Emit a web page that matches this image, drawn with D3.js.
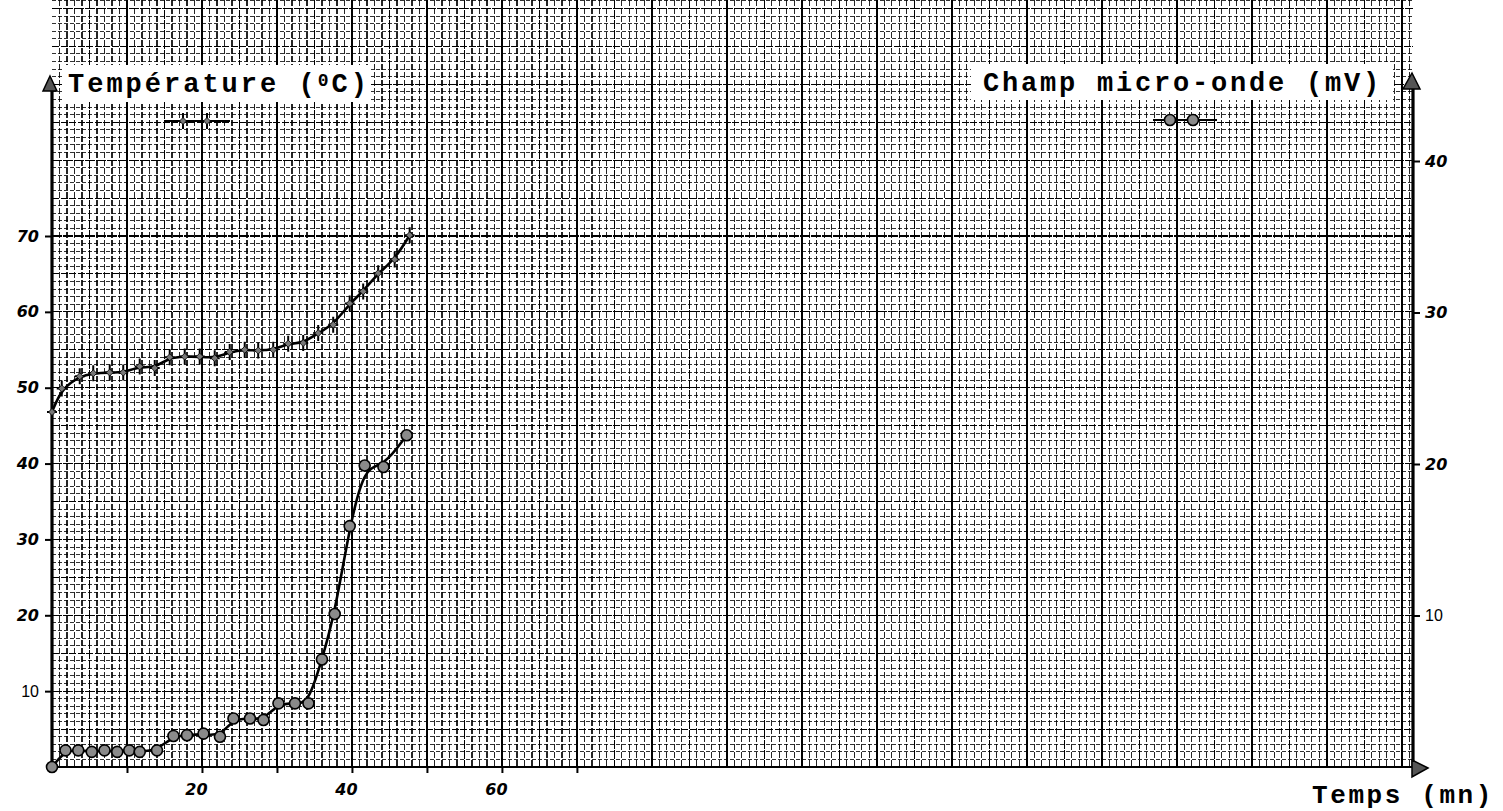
<!DOCTYPE html>
<html>
<head>
<meta charset="utf-8">
<script src="https://cdn.jsdelivr.net/npm/d3@7"></script>
<style>
  html, body { margin: 0; padding: 0; background: #fff; }
  svg { display: block; }
</style>
</head>
<body>
<svg id="chart" width="1503" height="811"></svg>
<script>
// Axis ticks
const timeTicks = [10, 20, 30, 40, 50, 60, 70];      // minutes
const timeLabels = [20, 40, 60];
const tempTicks = [10, 20, 30, 40, 50, 60, 70];      // °C
const fieldTicks = [10, 20, 30, 40];                 // mV

// Temperature (°C) versus time (mn)
const tempTime  = [0, 1.3, 3.7, 5.5, 7.7, 9.5, 11.7, 13.7, 15.7, 17.7, 19.7, 21.7, 23.7,
                   25.7, 27.5, 29.5, 31.5, 33.5, 35.5, 37.5, 39.7, 41.5, 43.5, 45.7, 47.7];
const tempValue = [46.8, 49.9, 51.5, 51.9, 52.0, 52.0, 52.8, 52.6, 54.0, 54.1, 54.1, 53.9, 54.7,
                   55.0, 54.9, 55.0, 55.8, 55.9, 57.2, 58.3, 61.1, 62.7, 65.1, 66.9, 70.1];

// Microwave field (mV) versus time (mn)
const fieldTime  = [0, 1.8, 3.5, 5.3, 7.0, 8.7, 10.3, 11.7, 14.0, 16.2, 18.0, 20.2, 22.4,
                    24.2, 26.4, 28.2, 30.2, 32.4, 34.2, 36.0, 37.7, 39.7, 41.7, 44.2, 47.3];
const fieldValue = [0, 1.1, 1.1, 1.0, 1.1, 1.0, 1.1, 1.0, 1.1, 2.05, 2.1, 2.2, 2.0,
                    3.2, 3.2, 3.1, 4.2, 4.2, 4.2, 7.1, 10.1, 15.9, 19.9, 19.8, 21.9];

const svg = d3.select('#chart');

const x  = d3.scaleLinear().domain([0, 181.5]).range([52, 1413]);
const yT = d3.scaleLinear().domain([0, 70]).range([767, 236]);
const yF = d3.scaleLinear().domain([0, 40]).range([767, 161]);

// ---- graph paper ----
const grid = svg.append('g').attr('shape-rendering', 'crispEdges');
const vMin = d3.range(1, 182);
const hMin = d3.range(1, 102).filter(d => yT(d) >= 0);
function vStyle(sel, d) {
  if (d % 10 === 0) sel.attr('stroke', '#000').attr('stroke-width', 1.7);
  else if (d % 5 === 0) sel.attr('stroke', '#000').attr('stroke-width', 1.4).attr('stroke-dasharray', '9 1');
  else sel.attr('stroke', '#000').attr('stroke-width', 1.2).attr('stroke-dasharray', '6 2').attr('opacity', 0.85);
}
function hStyle(sel, d) {
  if (d % 10 === 0) sel.attr('stroke', '#000').attr('stroke-width', 1.2).attr('stroke-dasharray', '10 1');
  else if (d % 5 === 0) sel.attr('stroke', '#000').attr('stroke-width', 1.1).attr('stroke-dasharray', '7 1.5');
  else sel.attr('stroke', '#000').attr('stroke-width', 1).attr('stroke-dasharray', '4 2').attr('opacity', 0.8);
}
vMin.forEach(d => {
  grid.append('line')
    .attr('x1', x(d)).attr('x2', x(d))
    .attr('y1', 0).attr('y2', 767)
    .call(vStyle, d);
});
hMin.forEach(d => {
  grid.append('line')
    .attr('x1', 52).attr('x2', 1413)
    .attr('y1', yT(d)).attr('y2', yT(d))
    .call(hStyle, d);
});

// ---- title boxes ----
const titleFont = '"Liberation Mono", "DejaVu Sans Mono", monospace';
svg.append('rect').attr('x', 63).attr('y', 65).attr('width', 308).attr('height', 37).attr('fill', '#fff');
svg.append('rect').attr('x', 971).attr('y', 64).attr('width', 422).attr('height', 36).attr('fill', '#fff');

const tTitle = svg.append('text')
  .attr('x', 68).attr('y', 92)
  .attr('font-family', titleFont).attr('font-weight', 'bold')
  .attr('font-size', 27).attr('letter-spacing', 3).attr('fill', '#000');
tTitle.append('tspan').text('Température (');
tTitle.append('tspan').attr('font-size', 18).attr('dy', -6).text('0');
tTitle.append('tspan').attr('dy', 6).text('C)');

svg.append('text')
  .attr('x', 983).attr('y', 91)
  .attr('font-family', titleFont).attr('font-weight', 'bold')
  .attr('font-size', 27).attr('letter-spacing', 2.8).attr('fill', '#000')
  .text('Champ micro-onde (mV)');

svg.append('text')
  .attr('x', 1312).attr('y', 803)
  .attr('font-family', titleFont).attr('font-weight', 'bold')
  .attr('font-size', 26).attr('letter-spacing', 2.6).attr('fill', '#000')
  .text('Temps (mn)');

// ---- axis lines and arrowheads ----
const axes = svg.append('g');
axes.append('line').attr('x1', 52).attr('x2', 52).attr('y1', 768).attr('y2', 88)
  .attr('stroke', '#000').attr('stroke-width', 3.2);
axes.append('line').attr('x1', 1413).attr('x2', 1413).attr('y1', 768).attr('y2', 86)
  .attr('stroke', '#000').attr('stroke-width', 3.2);
axes.append('line').attr('x1', 52).attr('x2', 1416).attr('y1', 767).attr('y2', 767)
  .attr('stroke', '#000').attr('stroke-width', 2.2);

axes.append('path').attr('d', 'M50,76 L57,91 L43,91 Z')
  .attr('fill', '#555').attr('stroke', '#000').attr('stroke-width', 1.5);
axes.append('path').attr('d', 'M1412,73 L1420,89 L1403,89 Z')
  .attr('fill', '#555').attr('stroke', '#000').attr('stroke-width', 1.5);
axes.append('path').attr('d', 'M1428,768 L1412,760 L1412,777 Z')
  .attr('fill', '#555').attr('stroke', '#000').attr('stroke-width', 1.5);

// ---- tick marks and labels ----
const handFont = '"DejaVu Sans", sans-serif';
const plainFont = '"Liberation Sans", Arial, sans-serif';

function styleAxis(g, plainValue) {
  g.select('.domain').remove();
  g.selectAll('.tick line').attr('stroke', '#000').attr('stroke-width', 2);
  g.selectAll('.tick text')
    .attr('fill', '#000')
    .attr('font-size', 16)
    .attr('font-weight', d => d === plainValue ? 'normal' : 'bold')
    .attr('font-family', d => d === plainValue ? plainFont : handFont)
    .attr('font-style', d => d === plainValue ? 'normal' : 'italic');
}

svg.append('g').attr('transform', 'translate(52,0)')
  .call(d3.axisLeft(yT).tickValues(tempTicks).tickSize(7).tickPadding(6))
  .call(styleAxis, 10);

svg.append('g').attr('transform', 'translate(1413,0)')
  .call(d3.axisRight(yF).tickValues(fieldTicks).tickSize(7).tickPadding(5))
  .call(styleAxis, 10);

const bottom = svg.append('g').attr('transform', 'translate(0,767)')
  .call(d3.axisBottom(x).tickValues(timeTicks).tickSize(6).tickPadding(11)
        .tickFormat(d => timeLabels.includes(d) ? d : ''))
  .call(styleAxis, null);
bottom.selectAll('.tick text').attr('dx', -6);

// ---- curves ----
const tempData  = tempTime.map((t, i) => ({ t, v: tempValue[i] }));
const fieldData = fieldTime.map((t, i) => ({ t, v: fieldValue[i] }));

const tempLine = d3.line().x(d => x(d.t)).y(d => yT(d.v)).curve(d3.curveBasis);
const fieldLine = d3.line().x(d => x(d.t)).y(d => yF(d.v)).curve(d3.curveBasis);

svg.append('path').datum(tempData).attr('d', tempLine)
  .attr('fill', 'none').attr('stroke', '#000').attr('stroke-width', 2.6);
svg.append('path').datum(fieldData).attr('d', fieldLine)
  .attr('fill', 'none').attr('stroke', '#000').attr('stroke-width', 2.6);

// ---- markers ----
function plusMarker(g) {
  g.append('path').attr('d', 'M0,-8V8M-5,0H5')
    .attr('stroke', '#000').attr('stroke-width', 2).attr('fill', 'none');
  g.append('path').attr('d', 'M0,-3.5L3.5,0L0,3.5L-3.5,0Z')
    .attr('fill', '#777').attr('stroke', '#000').attr('stroke-width', 0.8);
}
function circleMarker(g) {
  g.append('circle').attr('r', 5.5)
    .attr('fill', '#8a8a8a').attr('stroke', '#000').attr('stroke-width', 1.6);
}

svg.append('g').selectAll('g').data(tempData).join('g')
  .attr('transform', d => `translate(${x(d.t)},${yT(d.v)})`)
  .each(function () { plusMarker(d3.select(this)); });

svg.append('g').selectAll('g').data(fieldData).join('g')
  .attr('transform', d => `translate(${x(d.t)},${yF(d.v)})`)
  .each(function () { circleMarker(d3.select(this)); });

// ---- legends ----
const legT = svg.append('g');
legT.append('line').attr('x1', 164).attr('x2', 230).attr('y1', 121).attr('y2', 121)
  .attr('stroke', '#000').attr('stroke-width', 2);
[183, 207].forEach(px => plusMarker(legT.append('g').attr('transform', `translate(${px},121)`)));

const legF = svg.append('g');
legF.append('line').attr('x1', 1153).attr('x2', 1217).attr('y1', 120).attr('y2', 120)
  .attr('stroke', '#000').attr('stroke-width', 2);
[1170, 1193].forEach(px => circleMarker(legF.append('g').attr('transform', `translate(${px},120)`)));
</script>
</body>
</html>
